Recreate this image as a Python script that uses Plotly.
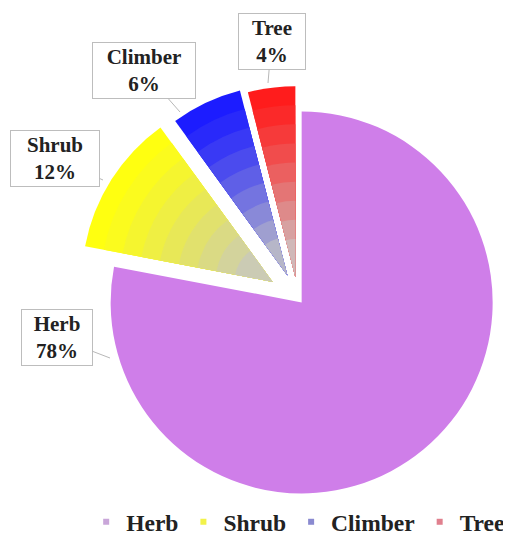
import plotly.graph_objects as go

categories = ["Herb", "Shrub", "Climber", "Tree"]
shares = [78, 12, 6, 4]

# slice colour at the rim and near the centre (radial shading)
outer_colors = ["#cf7ee9", "#ffff10", "#1c1cff", "#ff1c1c"]
inner_colors = ["#cf7ee9", "#cbcbb4", "#b6b6c8", "#d0b8b8"]
legend_colors = ["#c9a6d9", "#f2f24a", "#8a8ad0", "#e0808e"]
pulls = [0.03, 0.157, 0.13, 0.11]

W, H = 511, 538
R = 191.0              # pie radius in px
CX, CY = 290.0, 290.0  # pie centre in px (figure coords)
max_pull = max(pulls)
shade_levels = [1.0, 0.9, 0.8, 0.7, 0.6, 0.5, 0.4, 0.3, 0.2]


def hex_rgb(h):
    h = h.lstrip("#")
    return [int(h[i:i + 2], 16) for i in (0, 2, 4)]


def mix(c1, c2, t):
    a, b = hex_rgb(c1), hex_rgb(c2)
    return "rgb({},{},{})".format(*[round(x + (y - x) * t) for x, y in zip(a, b)])


fig = go.Figure()
for i, k in enumerate(shade_levels):
    t = ((1.0 - k) / 0.8) ** 1.2
    cols = []
    for j, (oc, ic) in enumerate(zip(outer_colors, inner_colors)):
        if i > 0 and j == 0:
            cols.append("rgba(0,0,0,0)")
        else:
            cols.append(mix(oc, ic, t))
    lp = [p / k for p in pulls]
    bw = 2 * R * (k + max_pull)
    bh = bw + 10
    x0 = max(0.0, (CX - bw / 2) / W)
    x1 = min(1.0, (CX + bw / 2) / W)
    y0 = 1 - (CY + bh / 2) / H
    y1 = 1 - (CY - bh / 2) / H
    fig.add_trace(go.Pie(
        labels=categories,
        values=shares,
        sort=False,
        direction="clockwise",
        rotation=0,
        pull=lp,
        marker=dict(colors=cols, line=dict(width=0)),
        textinfo="none",
        hoverinfo="label+percent" if i == 0 else "skip",
        showlegend=False,
        domain=dict(x=[x0, x1], y=[y0, y1]),
    ))

# legend entries with small square swatches
for cat, lc in zip(categories, legend_colors):
    fig.add_trace(go.Scatter(
        x=[None], y=[None], mode="markers", name=cat,
        marker=dict(symbol="square", size=6, color=lc),
        hoverinfo="skip",
    ))

# label callouts: arrow tip (px, figure coords) and box offset (px)
tips = [(102, 350), (95, 172), (172, 104), (260, 75)]
offsets = [(-53.5, -20.5), (-48, -21), (-36.5, -41.5), (3.5, -41.5)]
box_w = [66, 84, 98, 62]

for cat, val, (tx, ty), (ox, oy), bwid in zip(categories, shares, tips, offsets, box_w):
    fig.add_annotation(
        x=tx / W, y=1 - ty / H, xref="paper", yref="paper",
        ax=ox, ay=oy,
        text=f"<b>{cat}</b><br><b>{val}%</b>",
        showarrow=True, arrowhead=0, arrowwidth=1, arrowcolor="#b8b8b8",
        font=dict(family="Liberation Serif", size=21, color="#222222"),
        bgcolor="white", bordercolor="#bdbdbd", borderwidth=1, borderpad=2,
        width=bwid, align="center",
    )

fig.update_layout(
    width=W, height=H,
    margin=dict(l=0, r=0, t=0, b=0),
    paper_bgcolor="white",
    plot_bgcolor="white",
    xaxis=dict(visible=False),
    yaxis=dict(visible=False),
    showlegend=True,
    legend=dict(
        orientation="h",
        x=0.153, xanchor="left",
        y=0.0446, yanchor="middle",
        font=dict(family="Liberation Serif", size=23.5, color="#222222", weight="bold"),
        itemwidth=30,
        itemsizing="trace",
        traceorder="normal",
    ),
)

fig.write_html("out.html")
